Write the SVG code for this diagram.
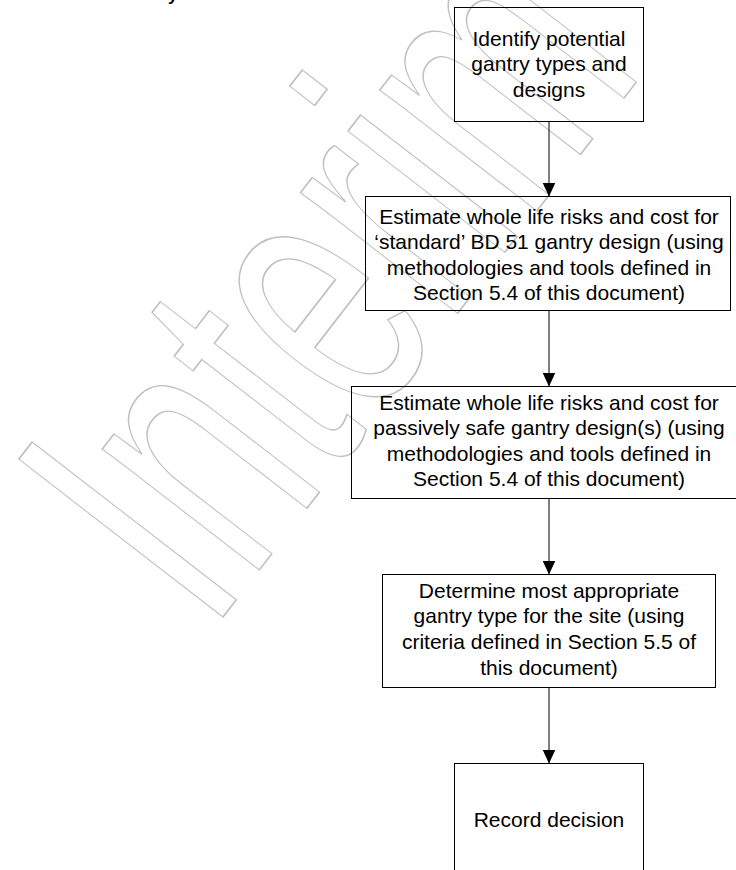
<svg xmlns="http://www.w3.org/2000/svg" width="736" height="870" viewBox="0 0 736 870">
<style>
.box{fill:none;stroke:#000;stroke-width:1}
.t{font-family:"Liberation Sans",Arial,sans-serif;font-size:21px;fill:#000;text-anchor:middle}
.conn{stroke:#000;stroke-width:1;fill:none}
.wm{font-family:"Liberation Sans",Arial,sans-serif;font-size:375px;fill:none;stroke:#c0c0c0;stroke-width:1.4}
</style>
<defs>
<marker id="arr" markerUnits="userSpaceOnUse" markerWidth="14" markerHeight="14" refX="14" refY="6.5" orient="auto">
<path d="M0,0 L14,6.5 L0,13 Z" fill="#000"/>
</marker>
</defs>
<rect width="736" height="870" fill="#fff"/>
<g id="watermark">
<text class="wm" vector-effect="non-scaling-stroke" transform="translate(209.8,634) rotate(-52.3) scale(0.622,1)" x="0" y="0">Interim</text>
</g>
<text x="168" y="0.5" style="font-family:'Liberation Sans',Arial,sans-serif;font-size:17px;font-weight:bold;fill:#000">y</text>
<g id="connectors">
<line class="conn" x1="549" y1="121.5" x2="549" y2="196.5" marker-end="url(#arr)"/>
<line class="conn" x1="549" y1="310.5" x2="549" y2="386.5" marker-end="url(#arr)"/>
<line class="conn" x1="549" y1="498.5" x2="549" y2="574.5" marker-end="url(#arr)"/>
<line class="conn" x1="549" y1="687.5" x2="549" y2="763.5" marker-end="url(#arr)"/>
</g>
<g id="node1">
<rect class="box" x="454.5" y="7.5" width="189" height="114"/>
<text class="t" x="549" y="45.5">Identify potential</text>
<text class="t" x="549" y="71">gantry types and</text>
<text class="t" x="549" y="96.5">designs</text>
</g>
<g id="node2">
<rect class="box" x="365.5" y="196.5" width="365" height="114"/>
<text class="t" x="549" y="223.5">Estimate whole life risks and cost for</text>
<text class="t" x="549" y="249">‘standard’ BD 51 gantry design (using</text>
<text class="t" x="549" y="274.5">methodologies and tools defined in</text>
<text class="t" x="549" y="300">Section 5.4 of this document)</text>
</g>
<g id="node3">
<rect class="box" x="351.5" y="386.5" width="395" height="112"/>
<text class="t" x="549" y="409.5">Estimate whole life risks and cost for</text>
<text class="t" x="549" y="435">passively safe gantry design(s) (using</text>
<text class="t" x="549" y="460.5">methodologies and tools defined in</text>
<text class="t" x="549" y="486">Section 5.4 of this document)</text>
</g>
<g id="node4">
<rect class="box" x="382.5" y="574.5" width="333" height="113"/>
<text class="t" x="549" y="597.5">Determine most appropriate</text>
<text class="t" x="549" y="623">gantry type for the site (using</text>
<text class="t" x="549" y="648.5">criteria defined in Section 5.5 of</text>
<text class="t" x="549" y="674.5">this document)</text>
</g>
<g id="node5">
<rect class="box" x="454.5" y="763.5" width="189" height="114"/>
<text class="t" x="549" y="827">Record decision</text>
</g>
</svg>
